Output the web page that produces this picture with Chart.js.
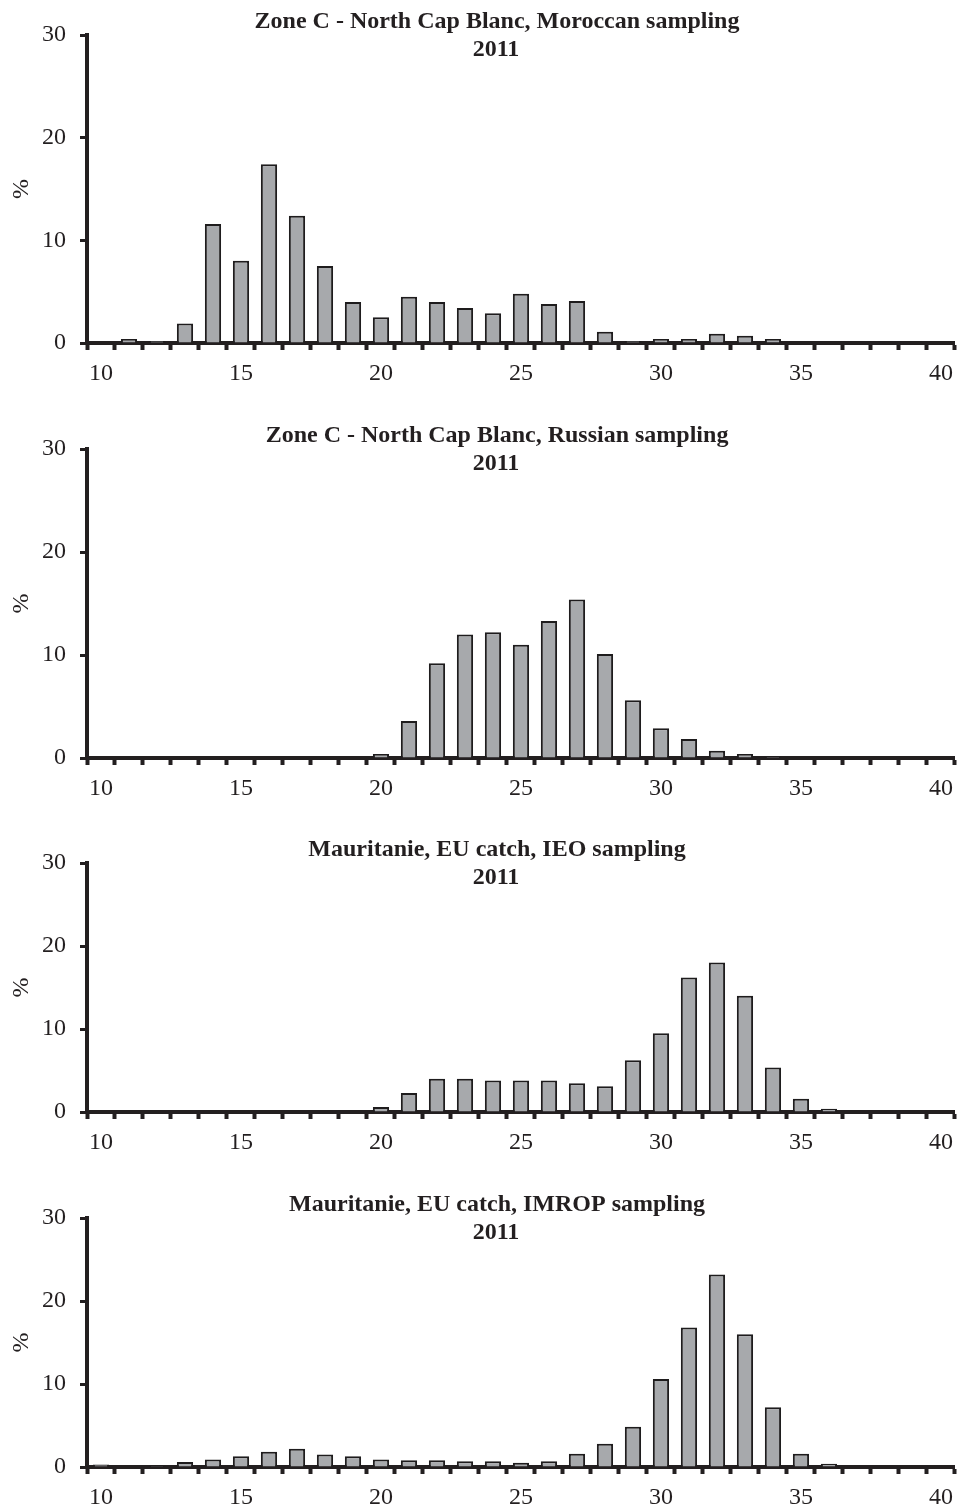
<!DOCTYPE html>
<html>
<head>
<meta charset="utf-8">
<script src="https://cdn.jsdelivr.net/npm/chart.js@4/dist/chart.umd.min.js"></script>
<style>
  html, body { margin: 0; padding: 0; background: #fff; overflow: hidden; }
  #wrap { position: relative; width: 962px; height: 1508px; }
  canvas { position: absolute; left: 0; }
</style>
</head>
<body>
<div id="wrap">
  <canvas id="panel1"></canvas>
  <canvas id="panel2"></canvas>
  <canvas id="panel3"></canvas>
  <canvas id="panel4"></canvas>
</div>
<script>
// length classes (cm)
const lengths = [10, 11, 12, 13, 14, 15, 16, 17, 18, 19, 20, 21, 22, 23, 24, 25,
                 26, 27, 28, 29, 30, 31, 32, 33, 34, 35, 36, 37, 38, 39, 40];
const labelledLengths = [10, 15, 20, 25, 30, 35, 40];
const yTicks = [0, 10, 20, 30];

// % of sampled fish per length class
const moroccanSampling = [0, 0.4, 0.2, 1.9, 11.6, 8.0, 17.4, 12.4, 7.5, 4.0, 2.5, 4.5, 4.0, 3.4, 2.9, 4.8,
                          3.8, 4.1, 1.1, 0.2, 0.4, 0.4, 0.9, 0.7, 0.4, 0, 0, 0, 0, 0, 0];
const russianSampling = [0, 0, 0, 0, 0, 0, 0, 0, 0, 0, 0.4, 3.6, 9.2, 12.0, 12.2, 11.0,
                         13.3, 15.4, 10.1, 5.6, 2.9, 1.85, 0.7, 0.4, 0.15, 0, 0, 0, 0, 0, 0];
const ieoSampling = [0, 0, 0, 0, 0, 0, 0, 0, 0, 0, 0.6, 2.3, 4.0, 4.0, 3.8, 3.8,
                     3.8, 3.45, 3.1, 6.25, 9.5, 16.2, 18.0, 14.0, 5.35, 1.6, 0.4, 0, 0, 0, 0];
const imropSampling = [0.3, 0, 0.15, 0.6, 0.9, 1.3, 1.85, 2.2, 1.5, 1.3, 0.9, 0.8, 0.8, 0.7, 0.7, 0.5,
                       0.7, 1.6, 2.8, 4.85, 10.6, 16.8, 23.2, 16.0, 7.2, 1.6, 0.4, 0, 0, 0, 0];

const titles = [
    ['Zone C - North Cap Blanc, Moroccan sampling', '2011'],
    ['Zone C - North Cap Blanc, Russian sampling', '2011'],
    ['Mauritanie, EU catch, IEO sampling', '2011'],
    ['Mauritanie, EU catch, IMROP sampling', '2011']
];

const ink = '#231f20';
Chart.defaults.font.family = '"Liberation Serif", "Times New Roman", serif';
Chart.defaults.color = ink;

// canvas placement: top of canvas and height of the plot area
const panels = [
    { id: 'panel1', top: 0, plotH: 308, data: moroccanSampling, title: titles[0] },
    { id: 'panel2', top: 414, plotH: 309, data: russianSampling, title: titles[1] },
    { id: 'panel3', top: 828, plotH: 249, data: ieoSampling, title: titles[2] },
    { id: 'panel4', top: 1183, plotH: 249, data: imropSampling, title: titles[3] }
];

const PAD_TOP = 35;
const X_AXIS_H = 44;

function drawPanel(p) {
    const cv = document.getElementById(p.id);
    const h = PAD_TOP + p.plotH + X_AXIS_H;
    cv.width = 962;
    cv.height = h;
    cv.style.top = p.top + 'px';
    cv.style.width = '962px';
    cv.style.height = h + 'px';

    // two-line bold heading drawn over the top of the plot
    const heading = {
        id: 'heading',
        afterDraw(chart) {
            const ctx = chart.ctx;
            const top = chart.chartArea.top;
            ctx.save();
            ctx.fillStyle = ink;
            ctx.font = 'bold 24px "Liberation Serif", serif';
            ctx.textAlign = 'center';
            ctx.textBaseline = 'alphabetic';
            ctx.fillText(p.title[0], 497, top - 7);
            ctx.fillText(p.title[1], 496, top + 21);
            ctx.restore();
        }
    };

    new Chart(cv.getContext('2d'), {
        type: 'bar',
        data: {
            labels: lengths,
            datasets: [{
                data: p.data,
                backgroundColor: '#a7a9ac',
                borderColor: '#1e1c1d',
                borderWidth: 2,
                barPercentage: 0.58,
                categoryPercentage: 1.0
            }]
        },
        options: {
            responsive: false,
            animation: false,
            layout: { padding: { top: PAD_TOP, right: 3, bottom: 0, left: 0 } },
            plugins: {
                legend: { display: false },
                tooltip: { enabled: false }
            },
            scales: {
                x: {
                    offset: true,
                    afterFit: (scale) => { scale.height = X_AXIS_H; },
                    grid: {
                        offset: true,
                        drawOnChartArea: false,
                        drawTicks: true,
                        tickLength: 7,
                        tickWidth: 4,
                        tickColor: ink
                    },
                    border: { display: true, width: 4, color: ink },
                    ticks: {
                        autoSkip: false,
                        maxRotation: 0,
                        padding: 9,
                        font: { size: 24 },
                        color: ink,
                        callback: (val, i) => labelledLengths.includes(lengths[i]) ? String(lengths[i]) : ''
                    }
                },
                y: {
                    min: 0,
                    max: 30,
                    afterFit: (scale) => { scale.width = 87; },
                    afterBuildTicks: (scale) => { scale.ticks = yTicks.map(v => ({ value: v })); },
                    grid: {
                        drawOnChartArea: false,
                        drawTicks: true,
                        tickLength: 7,
                        tickWidth: 3,
                        tickColor: ink
                    },
                    border: { display: true, width: 4, color: ink },
                    ticks: {
                        padding: 14,
                        font: { size: 24 },
                        color: ink
                    },
                    title: {
                        display: true,
                        text: '%',
                        font: { size: 24 },
                        color: ink,
                        padding: { top: 7, bottom: 0 }
                    }
                }
            }
        },
        plugins: [heading]
    });
}

panels.forEach(drawPanel);
</script>
</body>
</html>
